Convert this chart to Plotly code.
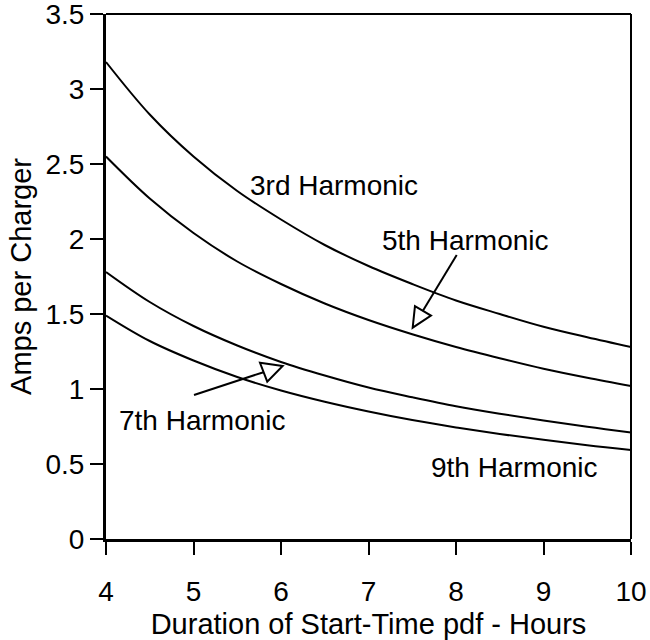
import plotly.graph_objects as go

# Duration of the start-time pdf (hours)
duration = [4, 4.5, 5, 5.5, 6, 6.5, 7, 7.5, 8, 8.5, 9, 9.5, 10]

# Harmonic current per charger (A)
h3 = [3.18, 2.83, 2.55, 2.32, 2.13, 1.96, 1.82, 1.70, 1.59, 1.50, 1.415, 1.345, 1.28]
h5 = [2.55, 2.27, 2.04, 1.85, 1.70, 1.57, 1.46, 1.365, 1.28, 1.205, 1.135, 1.075, 1.02]
h7 = [1.78, 1.58, 1.42, 1.29, 1.18, 1.09, 1.01, 0.945, 0.885, 0.835, 0.79, 0.748, 0.71]
h9 = [1.49, 1.32, 1.19, 1.08, 0.99, 0.915, 0.85, 0.793, 0.744, 0.70, 0.661, 0.625, 0.593]

x_ticks = [4, 5, 6, 7, 8, 9, 10]
y_ticks = [0, 0.5, 1, 1.5, 2, 2.5, 3, 3.5]
y_tick_text = ["0", "0.5", "1", "1.5", "2", "2.5", "3", "3.5"]

FONT = "Liberation Sans, Arial, sans-serif"
FS_TICK = 28
FS_LABEL = 28
FS_TITLE = 24.5

fig = go.Figure()
for name, ys in [("3rd", h3), ("5th", h5), ("7th", h7), ("9th", h9)]:
    fig.add_trace(go.Scatter(
        x=duration, y=ys, mode="lines", name=name,
        line=dict(color="black", width=2, shape="spline"),
        showlegend=False, hoverinfo="skip", cliponaxis=False,
    ))

# curve labels
labels = [
    ("3rd Harmonic", 5.62, 2.36, "left"),
    ("5th Harmonic", 7.13, 1.99, "left"),
    ("7th Harmonic", 4.13, 0.793, "left"),
    ("9th Harmonic", 9.65, 0.48, "right"),
]
for text, lx, ly, anchor in labels:
    fig.add_annotation(x=lx, y=ly, text=text, showarrow=False,
                       xanchor=anchor, yanchor="middle",
                       font=dict(family=FONT, size=FS_LABEL, color="black"))

# pointer arrows with open triangular heads
arrows = [
    # (line start, base midpoint, triangle vertices)
    ((8.008, 1.893), (7.62, 1.52), [(7.505, 1.409), (7.531, 1.553), (7.714, 1.489)]),
    ((5.006, 0.960), (5.80, 1.112), [(6.019, 1.153), (5.760, 1.175), (5.843, 1.049)]),
]
for (sx, sy), (bx, by), tri in arrows:
    fig.add_shape(type="line", x0=sx, y0=sy, x1=bx, y1=by,
                  line=dict(color="black", width=2))
    path = "M {},{} L {},{} L {},{} Z".format(
        tri[0][0], tri[0][1], tri[1][0], tri[1][1], tri[2][0], tri[2][1])
    fig.add_shape(type="path", path=path, fillcolor="white",
                  line=dict(color="black", width=2))

# top and right frame lines
fig.add_shape(type="line", xref="paper", yref="paper", x0=0, y0=1, x1=1, y1=1,
              line=dict(color="black", width=2))
fig.add_shape(type="line", xref="paper", yref="paper", x0=1, y0=0, x1=1, y1=1,
              line=dict(color="black", width=2))

fig.update_layout(
    width=650, height=640,
    margin=dict(l=106, r=19, t=14, b=101),
    paper_bgcolor="white", plot_bgcolor="white",
    font=dict(family=FONT, size=FS_TITLE, color="black"),
    xaxis=dict(
        range=[4, 10], tickvals=x_ticks, ticks="outside", ticklen=13,
        tickwidth=1.5, tickcolor="black", showline=True, linewidth=3,
        linecolor="black", showgrid=False, zeroline=False, automargin=False,
        ticklabelstandoff=12, ticklabeloverflow="allow",
        title=dict(text="Duration of Start-Time pdf - Hours", standoff=9),
        tickfont=dict(family=FONT, size=FS_TICK, color="black"),
    ),
    yaxis=dict(
        range=[0, 3.5], tickvals=y_ticks, ticktext=y_tick_text,
        ticks="outside", ticklen=13, tickwidth=1.5, tickcolor="black",
        showline=True, linewidth=3, linecolor="black", showgrid=False,
        zeroline=False, automargin=False,
        ticklabelstandoff=0, ticklabeloverflow="allow",
        title=dict(text="Amps per Charger", standoff=6),
        tickfont=dict(family=FONT, size=FS_TICK, color="black"),
    ),
)

fig.write_html("out.html")
